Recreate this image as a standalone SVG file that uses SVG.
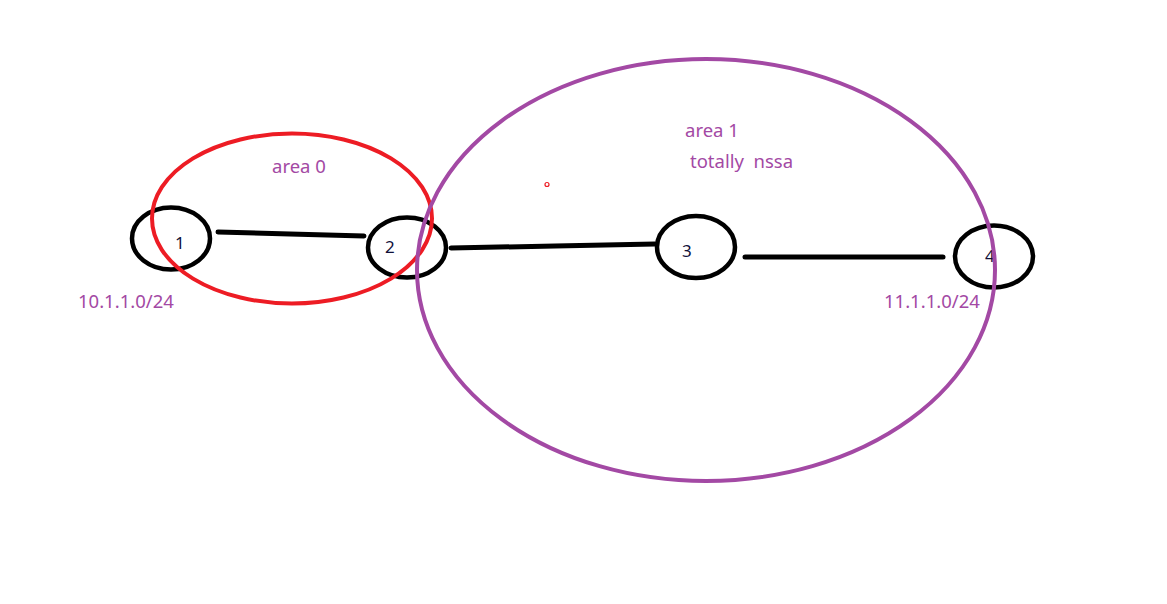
<svg xmlns="http://www.w3.org/2000/svg" width="1167" height="604" viewBox="0 0 1167 604">
<style>
.node{fill:none;stroke:#000;stroke-width:4.5}
.lbl{font-family:"Noto Sans","Liberation Sans",sans-serif;font-size:17px;fill:#10103a}
.txt{font-family:"Noto Sans","Liberation Sans",sans-serif;font-size:18.5px;fill:#a349a4}
.link{stroke:#000;stroke-width:5;stroke-linecap:round;fill:none}
.area{fill:none;stroke-width:4}
</style>
<rect width="1167" height="604" fill="#fff"/>
<g id="connectors">
<polyline class="link" points="218,232 290,234 364,236"/>
<polyline class="link" points="451,248 555,246 655,244"/>
<line class="link" x1="745" y1="257" x2="943" y2="257"/>
</g>
<g id="node1"><ellipse class="node" cx="171" cy="238.5" rx="39" ry="31"/><text class="lbl" x="175" y="249">1</text></g>
<g id="node2"><ellipse class="node" cx="407" cy="247.5" rx="39" ry="30"/><text class="lbl" x="385" y="253">2</text></g>
<g id="node3"><ellipse class="node" cx="696" cy="247" rx="39" ry="31"/><text class="lbl" x="682" y="257">3</text></g>
<g id="node4"><ellipse class="node" cx="994" cy="256.5" rx="39" ry="31"/><text class="lbl" x="985" y="262">4</text></g>
<g id="area0"><ellipse class="area" stroke="#ed1c24" cx="292" cy="218.5" rx="140" ry="85"/><text class="txt" x="272" y="173">area 0</text></g>
<g id="area1"><ellipse class="area" stroke="#a349a4" cx="706" cy="270" rx="289" ry="211"/><text class="txt" x="685" y="137">area 1</text><text class="txt" x="690" y="168" xml:space="preserve">totally  nssa</text></g>
<text class="txt" x="78" y="308">10.1.1.0/24</text>
<text class="txt" x="884" y="308">11.1.1.0/24</text>
<circle cx="547" cy="184.5" r="2" fill="none" stroke="#ed1c24" stroke-width="1.2"/>
</svg>
